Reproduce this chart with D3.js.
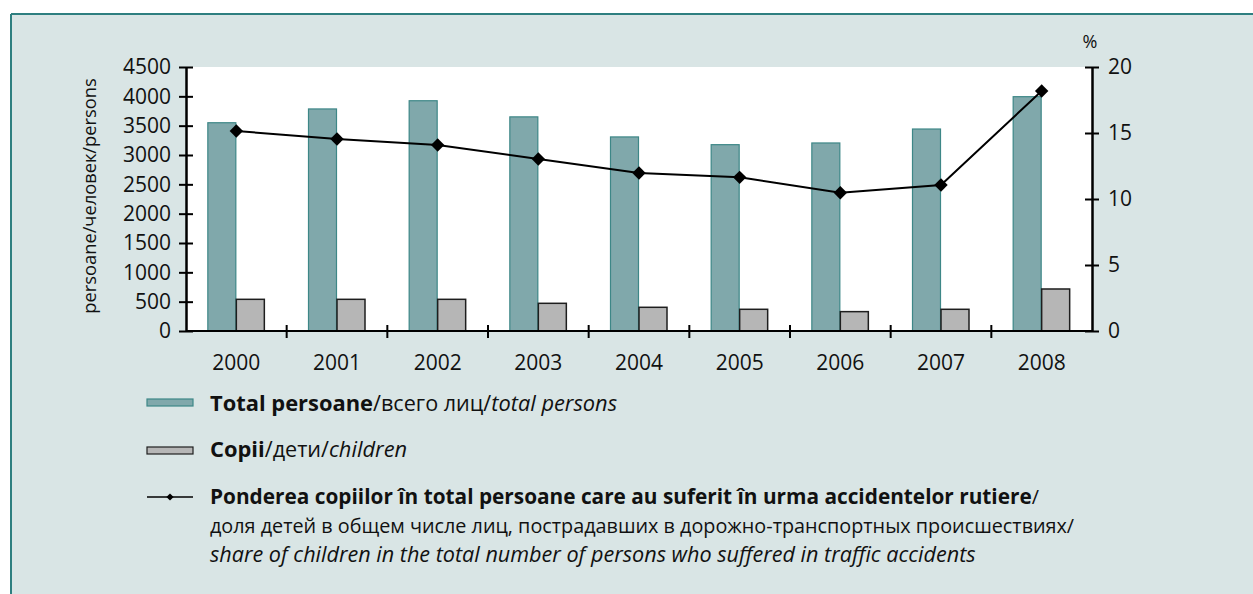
<!DOCTYPE html>
<html><head><meta charset="utf-8">
<script src="https://cdn.jsdelivr.net/npm/d3@7"></script>
<style>
html,body{margin:0;padding:0;background:#fff;}
svg text{font-family:"Open Sans",sans-serif;fill:#111;}
</style></head>
<body>
<svg id="chart" width="1253" height="594"></svg>
<script>
const years = ["2000","2001","2002","2003","2004","2005","2006","2007","2008"];
const totalPersons = [3550, 3785, 3925, 3650, 3308, 3176, 3205, 3443, 3994];
const children = [540, 540, 540, 472, 404, 370, 330, 370, 716];
const shareChildren = [15.15, 14.55, 14.09, 13.03, 11.97, 11.64, 10.47, 11.06, 18.18];
const leftTicks = [0,500,1000,1500,2000,2500,3000,3500,4000,4500];
const rightTicks = [0,5,10,15,20];

const svg = d3.select("#chart");
const W = 1253, H = 594;

// frame
svg.append("rect").attr("x",11).attr("y",14).attr("width",W).attr("height",H)
  .attr("fill","#d9e5e5");
svg.append("line").attr("x1",11).attr("x2",W).attr("y1",14).attr("y2",14)
  .attr("stroke","#2e7f80").attr("stroke-width",2);
svg.append("line").attr("x1",11).attr("x2",11).attr("y1",14).attr("y2",H)
  .attr("stroke","#2e7f80").attr("stroke-width",2);

const L = 186, R = 1092, T = 67, B = 331;
const x = d3.scaleBand().domain(years).range([L,R]).padding(0);
const yL = d3.scaleLinear().domain([0,4500]).range([B,T]);
const yR = d3.scaleLinear().domain([0,20]).range([B,T]);
const x1 = d3.scaleBand().domain(["total","children"]).range([0,58]);
const off = (x.bandwidth()-58)/2;

svg.append("rect").attr("x",L).attr("y",T).attr("width",R-L).attr("height",B-T).attr("fill","#fff");

// bars
svg.append("g").selectAll("rect").data(years).join("rect")
  .attr("x",(d)=>x(d)+off+x1("total")+0.5)
  .attr("width",x1.bandwidth()-1)
  .attr("y",(d,i)=>yL(totalPersons[i]))
  .attr("height",(d,i)=>B-yL(totalPersons[i]))
  .attr("fill","#80a8ab").attr("stroke","#3d8787").attr("stroke-width",1.2);
svg.append("g").selectAll("rect").data(years).join("rect")
  .attr("x",(d)=>x(d)+off+x1("children"))
  .attr("width",x1.bandwidth()-1)
  .attr("y",(d,i)=>yL(children[i]))
  .attr("height",(d,i)=>B-yL(children[i]))
  .attr("fill","#b6b6b6").attr("stroke","#1e1e1e").attr("stroke-width",1.5);

// axes
const fs = 21;
svg.append("g").attr("transform",`translate(${L},0)`)
  .call(d3.axisLeft(yL).tickValues(leftTicks).tickFormat(d3.format("d")).tickSizeInner(7).tickSizeOuter(0).tickPadding(8));
svg.append("g").attr("transform",`translate(${L},0)`)
  .call(d3.axisRight(yL).tickValues(leftTicks).tickSizeInner(7).tickSizeOuter(0).tickFormat(""));
svg.append("g").attr("transform",`translate(${R},0)`)
  .call(d3.axisRight(yR).tickValues(rightTicks).tickFormat(d3.format("d")).tickSizeInner(7).tickSizeOuter(0).tickPadding(9));
svg.append("g").attr("transform",`translate(${R},0)`)
  .call(d3.axisLeft(yR).tickValues(rightTicks).tickSizeInner(7).tickSizeOuter(0).tickFormat(""));
const gX = svg.append("g").attr("transform",`translate(0,${B})`)
  .call(d3.axisBottom(x).tickSize(0).tickPadding(24));
gX.select(".domain").remove();
svg.append("line").attr("x1",L).attr("x2",R).attr("y1",B).attr("y2",B).attr("stroke","#000").attr("stroke-width",2);
svg.append("g").selectAll("line").data(years.slice(1)).join("line")
  .attr("x1",d=>x(d)).attr("x2",d=>x(d)).attr("y1",B-6).attr("y2",B+7)
  .attr("stroke","#000").attr("stroke-width",2);
svg.selectAll(".tick line").attr("stroke","#000").attr("stroke-width",2);
svg.selectAll(".domain").attr("stroke","#000").attr("stroke-width",2);
svg.selectAll(".tick text").attr("font-size",fs).attr("font-family","Open Sans").attr("fill","#111");

// line
const line = d3.line().x((d,i)=>x(years[i])+x.bandwidth()/2).y(d=>yR(d));
svg.append("path").datum(shareChildren).attr("d",line).attr("fill","none")
  .attr("stroke","#000").attr("stroke-width",2);
const diamond = d3.symbol().type(d3.symbolSquare).size(90);
svg.append("g").selectAll("path").data(shareChildren).join("path")
  .attr("d",diamond)
  .attr("transform",(d,i)=>`translate(${x(years[i])+x.bandwidth()/2},${yR(d)}) rotate(45)`)
  .attr("fill","#000");

// axis titles
svg.append("text").attr("transform","translate(96,196) rotate(-90)")
  .attr("text-anchor","middle").attr("font-size",18.3).text("persoane/человек/persons");
svg.append("text").attr("x",1090).attr("y",48).attr("text-anchor","middle").attr("font-size",18).text("%");

// legend
const lg = svg.append("g");
const fB = 20.8, fR = 19.8, fI = 21.6;
const gB = 21.9, gR = 21.6, gI = 21.8;
lg.append("rect").attr("x",147).attr("y",399).attr("width",46).attr("height",7)
  .attr("fill","#80a8ab").attr("stroke","#3d8787").attr("stroke-width",1.2);
const t1 = lg.append("text").attr("x",210).attr("y",411);
t1.append("tspan").attr("font-weight","bold").attr("font-size",gB).text("Total persoane");
t1.append("tspan").attr("font-size",gR).text("/всего лиц/");
t1.append("tspan").attr("font-style","italic").attr("font-size",gI).text("total persons");

lg.append("rect").attr("x",147).attr("y",447).attr("width",46).attr("height",7)
  .attr("fill","#b6b6b6").attr("stroke","#1e1e1e").attr("stroke-width",1.2);
const t2 = lg.append("text").attr("x",210).attr("y",457);
t2.append("tspan").attr("font-weight","bold").attr("font-size",gB).text("Copii");
t2.append("tspan").attr("font-size",gR).text("/дети/");
t2.append("tspan").attr("font-style","italic").attr("font-size",gI).text("children");

lg.append("line").attr("x1",147).attr("x2",193).attr("y1",497).attr("y2",497).attr("stroke","#000").attr("stroke-width",1.5);
lg.append("path").attr("d",d3.symbol().type(d3.symbolSquare).size(26)).attr("transform","translate(170,497) rotate(45)").attr("fill","#000");
const t3 = lg.append("text").attr("x",210).attr("y",504);
t3.append("tspan").attr("font-weight","bold").attr("font-size",fB).text("Ponderea copiilor în total persoane care au suferit în urma accidentelor rutiere");
t3.append("tspan").attr("font-size",fR).text("/");
lg.append("text").attr("x",210).attr("y",533).attr("font-size",fR)
  .text("доля детей в общем числе лиц, пострадавших в  дорожно-транспортных происшествиях/");
lg.append("text").attr("x",210).attr("y",562).attr("font-size",fI).attr("font-style","italic")
  .text("share of children in the total number of persons who suffered in traffic accidents");
</script>
</body></html>
